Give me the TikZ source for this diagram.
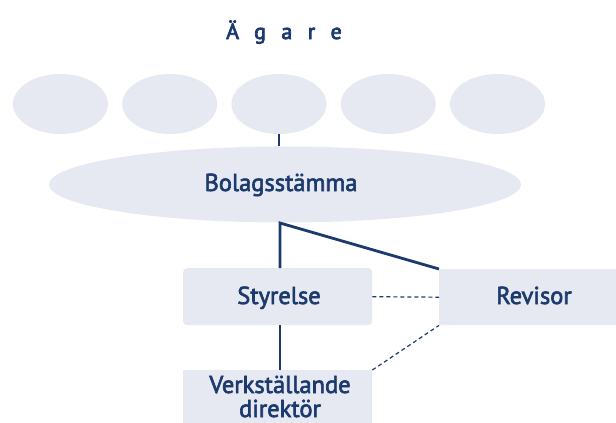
\documentclass[tikz,border=0pt]{standalone}
\usepackage{fontspec}
\setmainfont{PT Sans}
\usetikzlibrary{shapes.geometric}
\definecolor{navy}{HTML}{1C3A6E}
\definecolor{pale}{HTML}{E6E9F1}
\tikzset{
  owner/.style={ellipse, fill=pale, minimum width=95pt, minimum height=60pt, inner sep=0pt},
  boxed/.style={fill=pale, inner sep=0pt, anchor=north west},
  lbl/.style={text=navy, font=\fontsize{24.5}{24}\selectfont\addfontfeature{FakeBold=2.5}, anchor=base, inner sep=0pt},
  solid line/.style={draw=navy, line width=2.8pt},
  dash line/.style={draw=navy, line width=1.2pt, dash pattern=on 4pt off 3pt}
}
\begin{document}
\begin{tikzpicture}[x=1pt,y=-1pt]
\useasboundingbox (0,0) rectangle (616,423);
\node[text=navy, font=\fontsize{22}{22}\selectfont\addfontfeature{FakeBold=3.5,LetterSpace=70}, anchor=base, inner sep=0pt] (agare) at (284,39) {Ägare};
\foreach \i/\x in {1/60.5,2/169.75,3/279,4/388.25,5/497.5}
  \node[owner] (o\i) at (\x,104) {};
\node[ellipse, fill=pale, minimum width=472pt, minimum height=76pt, inner sep=0pt] (bolag) at (285,184.5) {};
\node[lbl] (bolagt) at (281,191) {Bolagsstämma};
\node[boxed, rounded corners=4pt, minimum width=189pt, minimum height=57pt] (styr) at (183,268) {};
\node[lbl] (styrt) at (279,304) {Styrelse};
\node[boxed, minimum width=177pt, minimum height=56pt] (rev) at (439,269) {};
\node[lbl] (revt) at (534,304) {Revisor};
\node[boxed, minimum width=189pt, minimum height=55pt] (verk) at (183,370) {};
\node[lbl, align=center] (verkt) at (280,417) {Verkställande\\direktör};
\coordinate (j) at (280,223);
\draw[solid line] (o3.south) -- (o3.south |- bolag.north);
\draw[solid line] (j |- styr.north) -- (j) -- (rev.north west);
\draw[solid line] (j |- styr.south) -- (j |- verk.north);
\draw[dash line] (styr.east) -- (rev.west);
\draw[dash line] (verk.north east) -- (rev.south west);
\end{tikzpicture}
\end{document}
